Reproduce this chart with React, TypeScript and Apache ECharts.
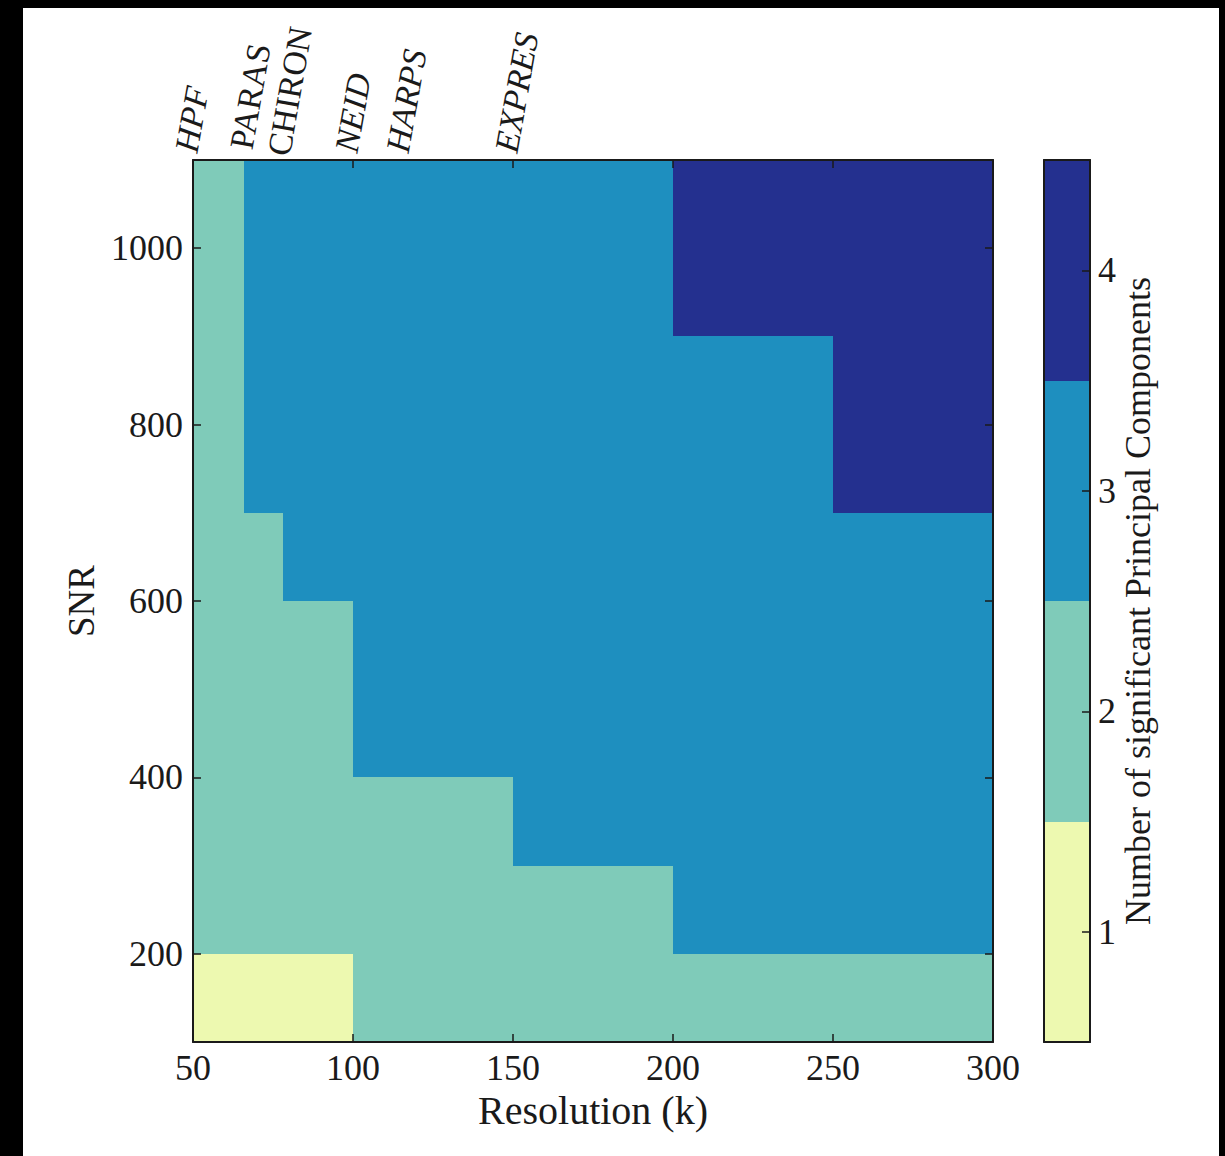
import React, { useEffect, useRef } from "react";
import * as echarts from "echarts";

// Cell edges (resolution in k, SNR)
const resolutionEdges = [50, 66, 78, 100, 150, 200, 250, 300];
const snrEdges = [100, 200, 300, 400, 600, 700, 900, 1100];
// Number of significant PCs per cell, one row per SNR band (bottom to top)
const pcSnr100 = [1, 1, 1, 2, 2, 2, 2];
const pcSnr200 = [2, 2, 2, 2, 2, 3, 3];
const pcSnr300 = [2, 2, 2, 2, 3, 3, 3];
const pcSnr400 = [2, 2, 2, 3, 3, 3, 3];
const pcSnr600 = [2, 2, 3, 3, 3, 3, 3];
const pcSnr700 = [2, 3, 3, 3, 3, 3, 4];
const pcSnr900 = [2, 3, 3, 3, 3, 4, 4];
const pcRows = [pcSnr100, pcSnr200, pcSnr300, pcSnr400, pcSnr600, pcSnr700, pcSnr900];

const xTicks = [50, 100, 150, 200, 250, 300];
const yTicks = [200, 400, 600, 800, 1000];
const instrumentNames = ["HPF", "PARAS\nCHIRON", "NEID", "HARPS", "EXPRES"];
const instrumentItalic = [true, false, true, true, true];
const instrumentRes = [50, 73, 100, 116, 150];
const pcLevels = [1, 2, 3, 4];
const pcColors = ["#edf9b0", "#7fcbb9", "#1e8fbf", "#24308f"];

const FONT = "Liberation Serif";
const INK = "#1a1a1a";

export default function App() {
  const ref = useRef<HTMLDivElement>(null);
  useEffect(() => {
    if (!ref.current) return;
    const chart = echarts.init(ref.current, undefined, { renderer: "svg" });

    const cells: number[][] = [];
    pcRows.forEach((row, j) => {
      row.forEach((v, i) => {
        cells.push([resolutionEdges[i], resolutionEdges[i + 1], snrEdges[j], snrEdges[j + 1], v]);
      });
    });
    const barCells = pcLevels.map((v) => [0, 1, v - 0.5, v + 0.5, v]);

    const renderRect = (params: any, api: any) => {
      const x0 = api.value(0), x1 = api.value(1), y0 = api.value(2), y1 = api.value(3);
      const v = api.value(4);
      const p0 = api.coord([x0, y1]);
      const p1 = api.coord([x1, y0]);
      const L = Math.round(p0[0]), T = Math.round(p0[1]);
      const R = Math.round(p1[0]), B = Math.round(p1[1]);
      const c = pcColors[v - 1];
      return {
        type: "rect",
        shape: { x: L, y: T, width: R - L, height: B - T },
        style: { fill: c },
      };
    };

    const tickStyle = { color: INK, width: 1.5 };
    const lineStyle = { color: INK, width: 2 };
    const labelBase = { fontFamily: FONT, fontSize: 36, color: INK };
    const plain = (v: number) => String(v);
    const hidden = { axisLine: { show: false }, axisTick: { show: false }, axisLabel: { show: false }, splitLine: { show: false } };

    chart.setOption({
      animation: false,
      backgroundColor: "#ffffff",
      textStyle: { fontFamily: FONT },
      grid: [
        { left: 170, top: 152, width: 800, height: 882 },
        { left: 1021, top: 152, width: 46, height: 882 },
        // instrument labels (text centred over their resolution)
        { left: 163, top: 152, width: 800, height: 882 },
      ],
      xAxis: [
        {
          gridIndex: 0, type: "value", position: "bottom", min: 50, max: 300, interval: 50, z: 10,
          name: "Resolution (k)", nameLocation: "middle", nameGap: 48,
          nameTextStyle: { ...labelBase, fontSize: 40 },
          axisLine: { show: true, lineStyle },
          axisTick: { show: true, inside: true, length: 8, lineStyle: tickStyle },
          axisLabel: { ...labelBase, margin: 8, formatter: plain },
          splitLine: { show: false },
        },
        {
          gridIndex: 0, type: "value", position: "top", min: 50, max: 300, z: 10,
          axisLine: { show: true, onZero: false, lineStyle },
          axisTick: { show: true, inside: true, length: 8, lineStyle: tickStyle, customValues: xTicks },
          axisLabel: { show: false },
          splitLine: { show: false },
        },
        {
          gridIndex: 1, type: "value", position: "bottom", min: 0, max: 1, z: 10,
          axisLine: { show: true, onZero: false, lineStyle },
          axisTick: { show: false }, axisLabel: { show: false }, splitLine: { show: false },
        },
        {
          gridIndex: 1, type: "value", position: "top", min: 0, max: 1, z: 10,
          axisLine: { show: true, onZero: false, lineStyle },
          axisTick: { show: false }, axisLabel: { show: false }, splitLine: { show: false },
        },
        {
          gridIndex: 2, type: "value", position: "top", min: 50, max: 300, z: 10,
          axisLine: { show: false }, axisTick: { show: false }, splitLine: { show: false },
          axisLabel: {
            show: true, customValues: instrumentRes, rotate: -80, margin: 8,
            fontFamily: FONT, fontSize: 34, color: INK, fontStyle: "normal", lineHeight: 38,
            formatter: (v: number) => {
              const k = instrumentRes.indexOf(v);
              if (k < 0) return "";
              return instrumentItalic[k] ? `{it|${instrumentNames[k]}}` : instrumentNames[k];
            },
            rich: { it: { fontFamily: FONT, fontSize: 34, color: INK, fontStyle: "italic" } },
          },
        },
      ],
      yAxis: [
        {
          gridIndex: 0, type: "value", position: "left", min: 100, max: 1100, z: 10,
          name: "SNR", nameLocation: "middle", nameGap: 83, nameRotate: 90,
          nameTextStyle: { ...labelBase, fontSize: 37 },
          axisLine: { show: true, onZero: false, lineStyle },
          axisTick: { show: true, inside: true, length: 8, lineStyle: tickStyle, customValues: yTicks },
          axisLabel: { ...labelBase, margin: 10, customValues: yTicks, formatter: plain },
          splitLine: { show: false },
        },
        {
          gridIndex: 0, type: "value", position: "right", min: 100, max: 1100, z: 10,
          axisLine: { show: true, onZero: false, lineStyle },
          axisTick: { show: true, inside: true, length: 8, lineStyle: tickStyle, customValues: yTicks },
          axisLabel: { show: false }, splitLine: { show: false },
        },
        {
          gridIndex: 1, type: "value", position: "left", min: 0.5, max: 4.5, z: 10,
          axisLine: { show: true, onZero: false, lineStyle },
          axisTick: { show: false }, axisLabel: { show: false }, splitLine: { show: false },
        },
        {
          gridIndex: 1, type: "value", position: "right", min: 0.5, max: 4.5, z: 10,
          name: "Number of significant Principal Components", nameLocation: "middle", nameGap: 25, nameRotate: 90,
          nameTextStyle: { ...labelBase },
          axisLine: { show: true, onZero: false, lineStyle },
          axisTick: { show: true, inside: true, length: 8, lineStyle: tickStyle, customValues: pcLevels },
          axisLabel: { ...labelBase, margin: 8, customValues: pcLevels, formatter: plain },
          splitLine: { show: false },
        },
        { gridIndex: 2, type: "value", min: 100, max: 1100, ...hidden },
      ],
      series: [
        {
          type: "custom", xAxisIndex: 0, yAxisIndex: 0, renderItem: renderRect,
          encode: { x: [0, 1], y: [2, 3] }, data: cells, silent: true,
        },
        {
          type: "custom", xAxisIndex: 2, yAxisIndex: 2, renderItem: renderRect,
          encode: { x: [0, 1], y: [2, 3] }, data: barCells, silent: true,
        },
      ],
    });
    return () => chart.dispose();
  }, []);

  return (
    <div style={{ position: "absolute", left: 0, top: 0, width: 1225, height: 1156, background: "#000" }}>
      <div ref={ref} style={{ position: "absolute", left: 23, top: 8, width: 1196, height: 1148 }} />
    </div>
  );
}
